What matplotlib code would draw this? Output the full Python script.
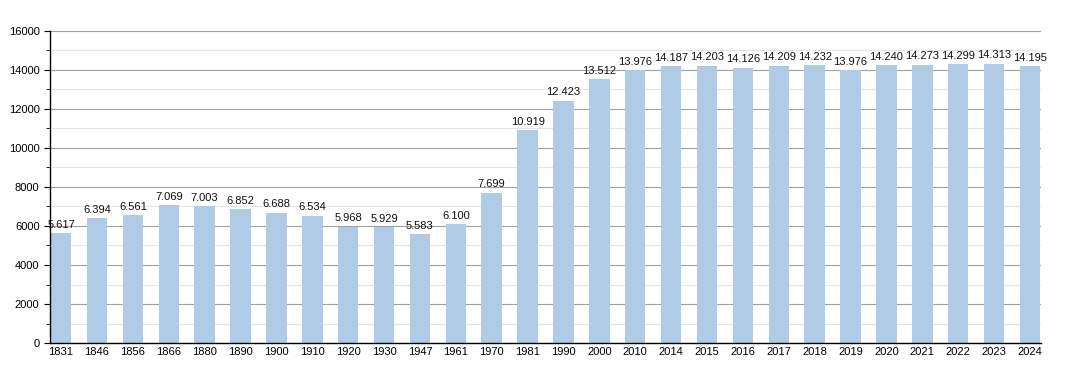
import matplotlib
matplotlib.use('Agg')
import matplotlib.pyplot as plt
from matplotlib.ticker import MultipleLocator

plt.rcParams['font.family'] = ['Liberation Sans', 'DejaVu Sans']

years = ['1831', '1846', '1856', '1866', '1880', '1890', '1900', '1910', '1920', '1930',
         '1947', '1961', '1970', '1981', '1990', '2000', '2010', '2014', '2015', '2016',
         '2017', '2018', '2019', '2020', '2021', '2022', '2023', '2024']
population = [5617, 6394, 6561, 7069, 7003, 6852, 6688, 6534, 5968, 5929,
              5583, 6100, 7699, 10919, 12423, 13512, 13976, 14187, 14203, 14126,
              14209, 14232, 13976, 14240, 14273, 14299, 14313, 14195]

fig = plt.figure(figsize=(10.7, 3.73), dpi=100)
ax = fig.add_axes([0.0467, 0.0804, 0.9263, 0.8366])

x = list(range(len(years)))
ax.bar(x, population, width=0.57, color='#b0cbe5', zorder=2)

for xi, v in zip(x, population):
    lbl = f'{v:,}'.replace(',', '.')
    ax.text(xi, v + 180, lbl, ha='center', va='bottom', fontsize=8, color='#111111', zorder=3)

ax.set_xlim(-0.31, len(years) - 0.69)
ax.set_ylim(0, 16000)
ax.set_xticks(x)
ax.set_xticklabels(years, fontsize=8)
ax.yaxis.set_major_locator(MultipleLocator(2000))
ax.yaxis.set_minor_locator(MultipleLocator(1000))
ax.tick_params(axis='y', labelsize=8, length=4, color='black')
ax.tick_params(axis='y', which='minor', length=3)
ax.tick_params(axis='x', length=0, pad=3)
ax.grid(axis='y', which='major', color='#a0a0a0', linewidth=0.8, zorder=0)
ax.grid(axis='y', which='minor', color='#e4e4e4', linewidth=0.8, zorder=0)
ax.set_axisbelow(True)
for s in ['top', 'right']:
    ax.spines[s].set_visible(False)
ax.spines['left'].set_linewidth(1.0)
ax.spines['bottom'].set_linewidth(1.0)

fig.savefig('out.png', dpi=100)
